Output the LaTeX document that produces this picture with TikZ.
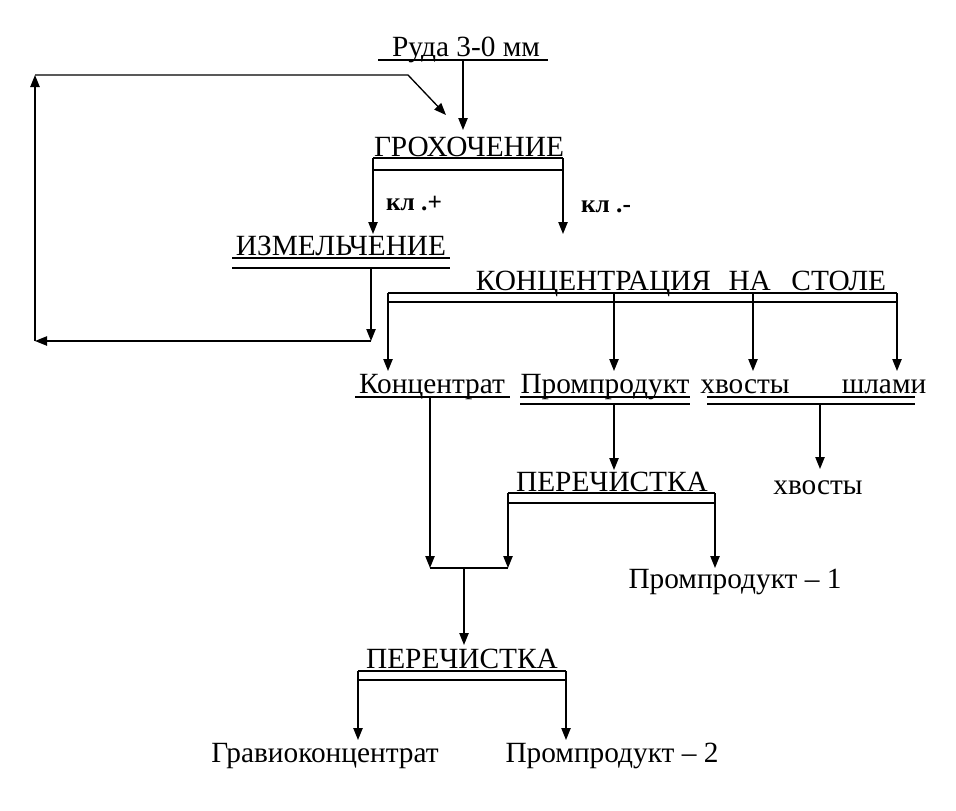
\documentclass[tikz,border=0pt]{standalone}
\usepackage{fontspec}
\setmainfont{Liberation Serif}
\usetikzlibrary{arrows.meta, positioning}

\tikzset{
  lbl/.style={font=\fontsize{22}{24}\selectfont, inner sep=0pt, anchor=base},
  sidelbl/.style={font=\bfseries\fontsize{19}{21}\selectfont, inner sep=0pt, anchor=base},
  flow/.style={-{Triangle[length=9pt, width=7pt]}},
}

\begin{document}
\begin{tikzpicture}[x=0.75pt, y=-0.75pt, line width=1pt]
  \useasboundingbox (0,0) rectangle (956,810);
  % feed
  \node[lbl] (ruda) at (466,56) {Руда 3-0 мм};
  \draw (378,60) -- (548,60);
  \coordinate (rudaU) at (463,60);
  % screening
  \node[lbl] (groh) at (469,156) {ГРОХОЧЕНИЕ};
  \coordinate (grohT) at (463,130);
  \draw[flow] (rudaU) -- (grohT);
  \coordinate (grohL) at (373,158);
  \coordinate (grohR) at (563,158);
  \draw (grohL) -- (grohR);
  \draw (373,170) -- (563,170);
  \node[sidelbl] (klp) at (414,210) {кл .+};
  \node[sidelbl] (klm) at (606,212) {кл .-};
  \coordinate (klmE) at (563,234);
  \draw[flow] (grohR) -- (klmE);
  % grinding
  \node[lbl] (izm) at (341,255) {ИЗМЕЛЬЧЕНИЕ};
  \coordinate (izmT) at (373,234);
  \draw[flow] (grohL) -- (izmT);
  \draw (232,258) -- (450,258);
  \draw (232,268) -- (450,268);
  \coordinate (izmU) at (371,268);
  \coordinate (izmE) at (371,341);
  \draw[flow] (izmU) -- (izmE);
  % recycle to screening
  \coordinate (loopB) at (35,341);
  \coordinate (loopT) at (35,75);
  \coordinate (loopK) at (408,75);
  \coordinate (loopE) at (446,115);
  \draw[flow] (izmE) -- (loopB);
  \draw[flow] (loopB) -- (loopT);
  \draw[flow] (loopT) -- (loopK) -- (loopE);
  % table concentration
  \node[lbl] (table) at (681,290) {КОНЦЕНТРАЦИЯ\hspace{0.6em}НА\hspace{0.7em}СТОЛЕ};
  \draw (388,293) -- (897,293);
  \draw (388,302) -- (897,302);
  \node[lbl] (konc) at (432,393) {Концентрат};
  \node[lbl] (prom) at (605,393) {Промпродукт};
  \node[lbl] (hv) at (745,393) {хвосты};
  \node[lbl] (shl) at (884,393) {шлами};
  \foreach \x/\n in {388/konc, 614/prom, 753/hv, 897/shl}
    \draw[flow] (\x,293) -- (\x,371);
  \draw (355,397) -- (510,397);
  \draw (520,397) -- (690,397);
  \draw (520,404) -- (690,404);
  \draw (707,397) -- (915,397);
  \draw (707,404) -- (915,404);
  % tails and slimes
  \coordinate (hsU) at (820,404);
  \node[lbl] (hvEnd) at (818,494) {хвосты};
  \draw[flow] (hsU) -- (820,469);
  % first cleaning
  \node[lbl] (per1) at (612,491) {ПЕРЕЧИСТКА};
  \draw[flow] (614,404) -- (614,470);
  \coordinate (per1L) at (508,493);
  \coordinate (per1R) at (715,493);
  \draw (per1L) -- (per1R);
  \draw (508,503) -- (715,503);
  \node[lbl] (pp1) at (735,588) {Промпродукт -- 1};
  \draw[flow] (per1R) -- (715,568);
  \coordinate (joinL) at (430,568);
  \coordinate (joinR) at (508,568);
  \draw[flow] (430,397) -- (joinL);
  \draw[flow] (per1L) -- (joinR);
  \draw (joinL) -- (joinR);
  % second cleaning
  \node[lbl] (per2) at (462,668) {ПЕРЕЧИСТКА};
  \draw[flow] (464,568) -- (464,645);
  \coordinate (per2L) at (358,671);
  \coordinate (per2R) at (566,671);
  \draw (per2L) -- (per2R);
  \draw (358,680) -- (566,680);
  \node[lbl] (grav) at (325,762) {Гравиоконцентрат};
  \node[lbl] (pp2) at (612,762) {Промпродукт -- 2};
  \draw[flow] (per2L) -- (358,740);
  \draw[flow] (per2R) -- (566,740);
\end{tikzpicture}
\end{document}
